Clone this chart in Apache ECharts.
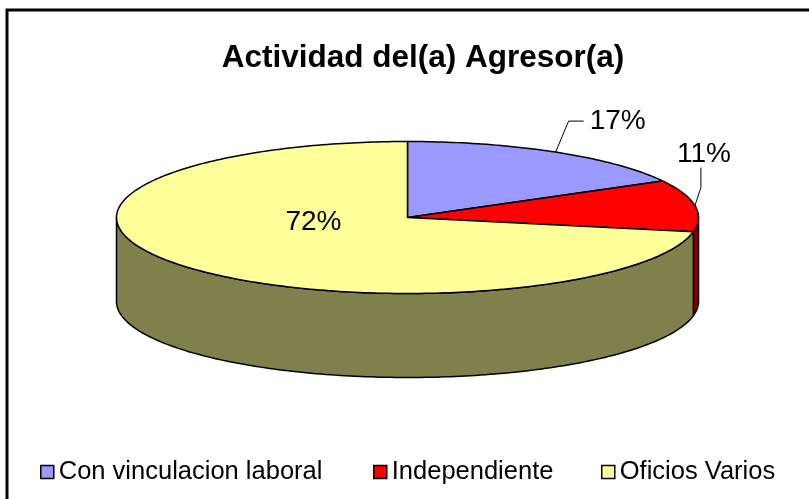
<!DOCTYPE html>
<html lang="es">
<head>
<meta charset="UTF-8">
<title>Actividad del(a) Agresor(a)</title>
<style>
  html, body { margin: 0; padding: 0; background: #fff; }
  #main { width: 809px; height: 499px; }
</style>
</head>
<body>
<div id="main"></div>
<script src="https://cdn.jsdelivr.net/npm/echarts@6/dist/echarts.min.js"></script>
<script>
var titleText = 'Actividad del(a) Agresor(a)';
var categories = ['Con vinculacion laboral', 'Independiente', 'Oficios Varios'];
var values = [17, 11, 72];

var topColors = ['#9999ff', '#ff0000', '#ffff99'];
var sideColors = ['#4c4c80', '#800000', '#80804c'];
var fontFamily = '"Liberation Sans", Arial, sans-serif';

// tilted disc: centre, radii of the top ellipse, wall height
var pie = { cx: 407.5, cy: 217.5, rx: 291, ry: 76, depth: 84 };

// percent labels, offsets measured from the rim point at the slice's mid angle
var labelLayout = [
    { line: [[0, 0], [13, -31], [28, -31]], text: [34, -31], align: 'left' },
    { line: [[0, 0], [6, -18], [6, -38]], text: [9, -51], align: 'center' },
    { inside: true, text: [-94, 5], align: 'center' }
];
var legendLeft = [40, 373, 601];

var total = values.reduce(function (a, b) { return a + b; }, 0);
var cum = [];
values.reduce(function (acc, v, i) { cum[i] = acc; return acc + v; }, 0);

function rim(deg, dy) {
    var r = deg * Math.PI / 180;
    return [pie.cx + pie.rx * Math.cos(r), pie.cy - pie.ry * Math.sin(r) + (dy || 0)];
}

function arc(a, b, dy) {
    var n = Math.max(2, Math.ceil(Math.abs(a - b)));
    var pts = [];
    for (var k = 0; k <= n; k++) {
        pts.push(rim(a + (b - a) * k / n, dy));
    }
    return pts;
}

function renderSlice(params, api) {
    var i = params.seriesIndex;
    var v = api.value(0);
    // start at 12 o'clock, go clockwise
    var start = 90 - 360 * cum[i] / total;
    var end = 90 - 360 * (cum[i] + v) / total;
    var children = [];

    // front wall, only the part facing the viewer (-180..0 deg)
    var lo = Math.max(end, -180), hi = Math.min(start, 0);
    if (hi > lo) {
        children.push({
            type: 'polygon',
            shape: { points: arc(hi, lo, 0).concat(arc(lo, hi, pie.depth)) },
            style: { fill: sideColors[i], stroke: '#000', lineWidth: 1.5, lineJoin: 'round' }
        });
    }

    // top face
    children.push({
        type: 'polygon',
        shape: { points: [[pie.cx, pie.cy]].concat(arc(start, end, 0)) },
        style: { fill: topColors[i], stroke: '#000', lineWidth: 1.5, lineJoin: 'round' }
    });

    var lay = labelLayout[i];
    var pct = Math.round(v / total * 100) + '%';
    var anchor = lay.inside ? [pie.cx, pie.cy] : rim((start + end) / 2, 0);
    if (lay.line) {
        children.push({
            type: 'polyline',
            shape: { points: lay.line.map(function (p) { return [anchor[0] + p[0], anchor[1] + p[1]]; }) },
            style: { stroke: '#000', lineWidth: 1, fill: null }
        });
    }
    children.push({
        type: 'text',
        x: anchor[0] + lay.text[0],
        y: anchor[1] + lay.text[1],
        style: {
            text: pct,
            font: '28px ' + fontFamily,
            fill: '#000',
            align: lay.align,
            verticalAlign: 'middle'
        }
    });

    return { type: 'group', children: children };
}

var option = {
    animation: false,
    title: {
        text: titleText,
        left: 418,
        textAlign: 'center',
        top: 37,
        textStyle: { fontFamily: fontFamily, fontSize: 31.5, fontWeight: 'bold', color: '#000' }
    },
    legend: categories.map(function (name, i) {
        return {
            data: [name],
            left: legendLeft[i],
            top: 459,
            padding: 0,
            icon: 'rect',
            itemWidth: 13,
            itemHeight: 13,
            selectedMode: false,
            itemStyle: { borderColor: '#000', borderWidth: 1.5 },
            textStyle: { fontFamily: fontFamily, fontSize: 25.5, color: '#000' }
        };
    }),
    graphic: [{
        type: 'rect',
        shape: { x: 7, y: 10, width: 1000, height: 1000 },
        style: { fill: null, stroke: '#000', lineWidth: 3 },
        silent: true
    }],
    series: categories.map(function (name, i) {
        return {
            type: 'custom',
            name: name,
            coordinateSystem: 'none',
            itemStyle: { color: topColors[i] },
            renderItem: renderSlice,
            data: [[values[i]]],
            silent: true
        };
    })
};

var myChart = echarts.init(document.getElementById('main'));
myChart.setOption(option);
</script>
</body>
</html>
